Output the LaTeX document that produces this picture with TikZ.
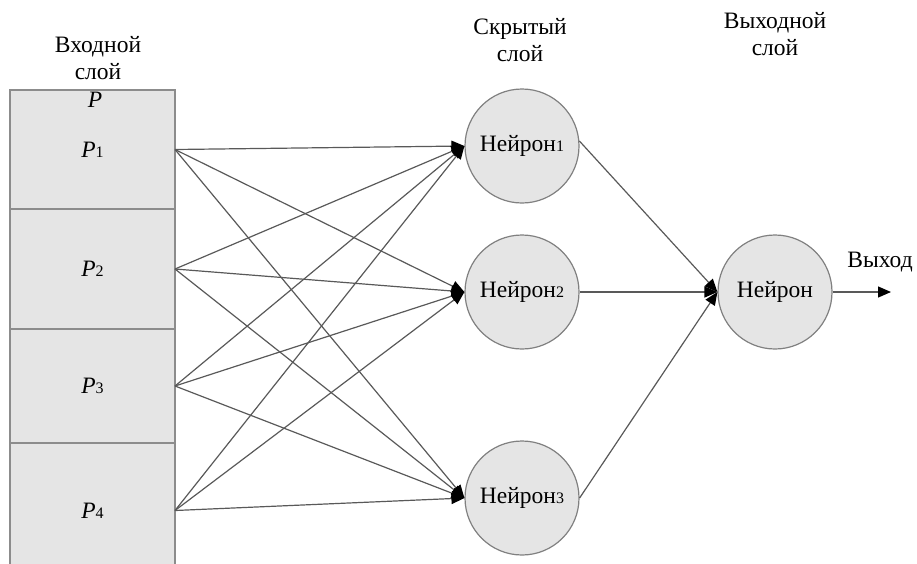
\documentclass[tikz,border=0pt]{standalone}
\usepackage{fontspec}
\setmainfont{Liberation Serif}
\usepackage{tikz}
\usetikzlibrary{arrows.meta,positioning}

\newcommand{\lowdigit}[1]{{\fontsize{16}{16}\selectfont #1}}

\begin{document}
\begin{tikzpicture}[x=1pt,y=-1pt,node distance=0pt,
		cell/.style={
			% The shape:
			rectangle,minimum width=165pt,outer sep=0pt,
			% The rest
			draw=black!45,line width=1.6pt,fill=black!10,
			font=\fontsize{23.5}{27}\selectfont},
		neuron/.style={
			% The shape:
			circle,minimum size=114pt,inner sep=0pt,
			% The rest
			draw=black!50,line width=1.2pt,fill=black!10,
			font=\fontsize{23.5}{27}\selectfont},
		title/.style={align=center,font=\fontsize{23.5}{27}\selectfont},
		link/.style={draw=black!65,line width=1.2pt,
			-{Triangle[length=13pt,width=11pt,color=black]}}]
		\path[use as bounding box,clip] (0,0) rectangle (917,563);

		% input layer
		\node (c_p1)		[cell, minimum height=119pt] at (92.5,149.5) {\textit{P}\lowdigit{1}};
		\node (c_p2)		[cell, minimum height=120pt, below=of c_p1] {\textit{P}\lowdigit{2}};
		\node (c_p3)		[cell, minimum height=114pt, below=of c_p2] {\textit{P}\lowdigit{3}};
		\node (c_p4)		[cell, minimum height=135pt, below=of c_p3] {\textit{P}\lowdigit{4}};
		\node (l_p)		[font=\fontsize{23.5}{27}\selectfont\itshape] at (95,100) {P};

		% hidden and output layer
		\node (n_h1)		[neuron] at (522,146) {Нейрон\lowdigit{1}};
		\node (n_h2)		[neuron] at (522,292) {Нейрон\lowdigit{2}};
		\node (n_h3)		[neuron] at (522,498) {Нейрон\lowdigit{3}};
		\node (n_out)		[neuron] at (775,292) {Нейрон};
		\coordinate (o_end) at (891,292);

		% titles
		\node (t_in)		[title] at (98,58) {Входной\\слой};
		\node (t_hid)		[title] at (520,40) {Скрытый\\слой};
		\node (t_out)		[title] at (775,34) {Выходной\\слой};
		\node (l_out)		[title] at (880,262) {Выход};

		\path	(c_p1.east)	edge[link]	(n_h1.west)
							edge[link]	(n_h2.west)
							edge[link]	(n_h3.west)
				(c_p2.east)	edge[link]	(n_h1.west)
							edge[link]	(n_h2.west)
							edge[link]	(n_h3.west)
				(c_p3.east)	edge[link]	(n_h1.west)
							edge[link]	(n_h2.west)
							edge[link]	(n_h3.west)
				(c_p4.east)	edge[link]	(n_h1.west)
							edge[link]	(n_h2.west)
							edge[link]	(n_h3.west)
				(n_h1.5)	edge[link]	(n_out.west)
				(n_h2.east)	edge[link]	(n_out.west)
				(n_h3.east)	edge[link]	(n_out.west)
				(n_out.east)	edge[link]	(o_end);
	\end{tikzpicture}
\end{document}
